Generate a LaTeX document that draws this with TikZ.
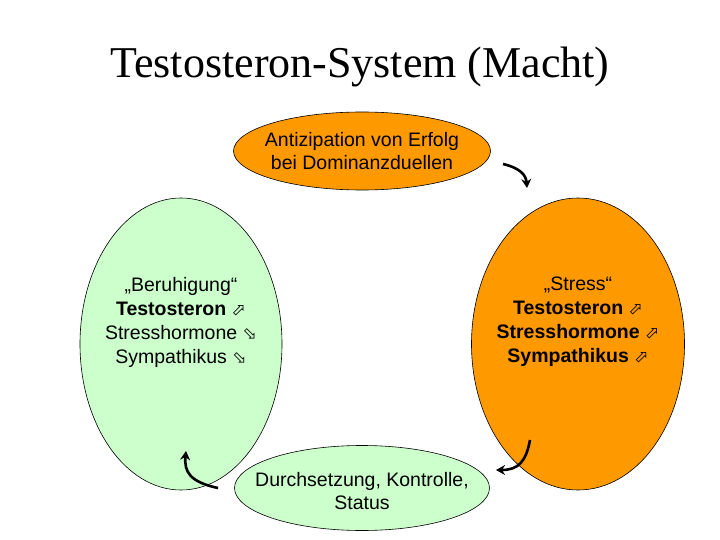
\documentclass[tikz,border=0pt]{standalone}
\usepackage{fontspec}
\setmainfont{Liberation Sans}
\newfontfamily\titlefont{Liberation Serif}
\newfontfamily\arrowfont{DejaVu Sans}
\usetikzlibrary{shapes.geometric, arrows.meta}
\definecolor{stressorange}{HTML}{FF9900}
\definecolor{calmgreen}{HTML}{CCFFCC}
\newcommand{\up}{{\arrowfont\fontsize{17}{17}\selectfont ⬀}}
\newcommand{\down}{{\arrowfont\fontsize{17}{17}\selectfont ⬂}}

\begin{document}
\begin{tikzpicture}[x=1pt, y=-1pt,
    state/.style={ellipse, draw=black, line width=0.6pt, inner sep=0pt},
    statetext/.style={align=center, inner sep=0pt, font=\fontsize{19.5}{24}\selectfont},
    cycle/.style={line width=2.6pt, -{Stealth[length=9pt, width=10pt]}}]
  \useasboundingbox (0,0) rectangle (720,540);

  \node[font=\titlefont\fontsize{44}{48}\selectfont] (title) at (360,67) {Testosteron-System (Macht)};

  \node[state, fill=stressorange, minimum width=257pt, minimum height=78pt] (anticip) at (362,151) {};
  \node[statetext, font=\fontsize{19.5}{22.5}\selectfont] (anticiptext) at (anticip.center)
    {Antizipation von Erfolg\\bei Dominanzduellen};
  \node[state, fill=stressorange, minimum width=213pt, minimum height=292pt] (stress) at (578,344) {};
  \node[statetext] (stresstext) at ([yshift=22pt]stress.center)
    {„Stress“\\\textbf{Testosteron} \up\\\textbf{Stresshormone} \up\\\textbf{Sympathikus} \up};
  \node[state, fill=calmgreen, minimum width=255pt, minimum height=85pt] (control) at (362,488) {};
  \node[statetext, font=\fontsize{19.5}{22.5}\selectfont] (controltext) at ([yshift=-3pt]control.center)
    {Durchsetzung, Kontrolle,\\Status};
  \node[state, fill=calmgreen, minimum width=202pt, minimum height=292pt] (calm) at (181,344) {};
  \node[statetext] (calmtext) at ([yshift=22pt]calm.center)
    {„Beruhigung“\\\textbf{Testosteron} \up\\Stresshormone \down\\Sympathikus \down};

  \coordinate (a1) at (503,164);
  \coordinate (a2) at (527,188);
  \coordinate (b1) at (530,440);
  \coordinate (b2) at (496,470);
  \coordinate (c1) at (218,488);
  \coordinate (c2) at (186,451);

  \draw[cycle] (a1) .. controls (520,168) and (526,175) .. (a2);
  \draw[cycle] (b1) .. controls (526,462) and (518,470) .. (b2);
  \draw[cycle] (c1) .. controls (190,482) and (184,472) .. (c2);
\end{tikzpicture}
\end{document}
